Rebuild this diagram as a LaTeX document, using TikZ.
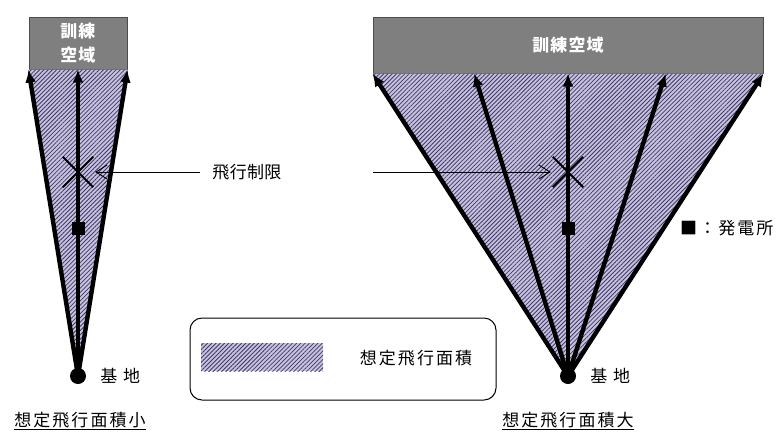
\documentclass[tikz,border=0pt]{standalone}
\usepackage{fontspec}
\setmainfont{Noto Sans CJK JP}
\usepackage{tikz}
\usetikzlibrary{positioning, calc, arrows.meta, patterns.meta}

\definecolor{airbox}{HTML}{7F7F7F}
\definecolor{areafill}{HTML}{C9C2DC}
\definecolor{arealine}{HTML}{3C3A6C}

\begin{document}
\begin{tikzpicture}[
    x=1pt, y=-1pt,
    airspace/.style={draw=black!70, fill=airbox, line width=1pt, text=white, align=center, inner sep=0pt,
        font=\fontsize{17}{24}\selectfont\bfseries\addfontfeature{LetterSpace=6}},
    area/.style={fill=areafill, postaction={pattern={Lines[angle=45, distance=3pt, line width=0.8pt]}, pattern color=arealine}},
    route/.style={line width=4.4pt, -{Latex[length=13pt, width=11pt]}},
    base/.style={circle, fill=black, minimum size=16pt, inner sep=0pt},
    plant/.style={rectangle, fill=black, minimum size=13pt, inner sep=0pt},
    label/.style={font=\fontsize{17}{20}\selectfont\addfontfeature{LetterSpace=12}, inner sep=0pt},
    limit/.style={line width=0.9pt, -{Straight Barb[length=11pt, width=14pt]}}
]
    \useasboundingbox (0,0) rectangle (778,432);

    % Training airspace boxes
    \node[airspace, minimum width=98pt, minimum height=52pt] (boxL) at (78,43) {訓練\\空域};
    \node[airspace, minimum width=390pt, minimum height=56pt] (boxR) at (568,45) {訓練空域};

    % Bases
    \coordinate (apexL) at (78,376);
    \coordinate (apexR) at (568,376);

    % Assumed flight areas
    \path[area] (apexL) -- (boxL.south west) -- (boxL.south east) -- cycle;
    \path[area] (apexR) -- (boxR.south west) -- (boxR.south east) -- cycle;

    % Routes
    \foreach \t in {south west, south, south east}
        \draw[route] (apexL) -- (boxL.\t);
    \foreach \f in {0, 0.26, 0.5, 0.75, 1}
        \draw[route] (apexR) -- ($(boxR.south west)!\f!(boxR.south east)$);

    \node[base] (baseL) at (apexL) {};
    \node[base] (baseR) at (apexR) {};
    \node[label, right=14pt of baseL] (baseTextL) {基 地};
    \node[label, right=14pt of baseR] (baseTextR) {基 地};

    % Power plants
    \node[plant] (plantL) at (78,228) {};
    \node[plant] (plantR) at (568,228) {};
    \node[label, anchor=west] (plantKey) at (680,228) {■：発電所};

    % Flight restriction marks
    \node[minimum size=30pt, inner sep=0pt] (crossL) at (78,172) {};
    \node[minimum size=30pt, inner sep=0pt] (crossR) at (568,172) {};
    \foreach \c in {crossL, crossR} {
        \draw[line width=2pt] (\c.north west) -- (\c.south east);
        \draw[line width=2pt] (\c.south west) -- (\c.north east);
    }
    \node[label, font=\fontsize{17}{20}\selectfont\addfontfeature{LetterSpace=2}] (limitText) at (247,172) {飛行制限};
    \coordinate (limitStartL) at (200,172);
    \coordinate (limitStartR) at (373,172);
    \draw[limit] (limitStartL) -- ([xshift=2pt]crossL.east);
    \draw[limit] (limitStartR) -- ([xshift=-2pt]crossR.west);

    % Legend
    \node[draw, line width=1pt, rounded corners=12pt, minimum width=306pt, minimum height=82pt] (legend) at (343,359) {};
    \node[area, minimum width=122pt, minimum height=28pt, inner sep=0pt] (legendSwatch) at (262,357) {};
    \node[label] (legendText) at (416,358) {想定飛行面積};

    % Captions
    \node[label] (captionL) at (80,421) {\underline{想定飛行面積小}};
    \node[label] (captionR) at (568,421) {\underline{想定飛行面積大}};
\end{tikzpicture}
\end{document}
